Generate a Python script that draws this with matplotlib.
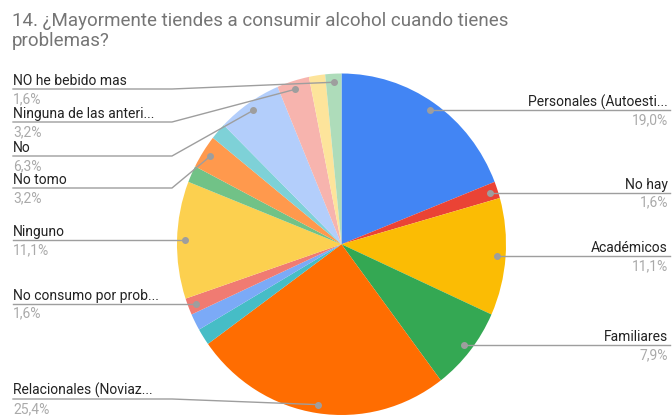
import numpy as np
import matplotlib
matplotlib.use("Agg")
import matplotlib.pyplot as plt

# datos: respuestas (63 en total), en el orden de las porciones desde arriba, sentido horario
categorias = ["Personales (Autoesti...", "No hay", "Académicos", "Familiares",
              "Relacionales (Noviaz...", "", "", "No consumo por prob...",
              "Ninguno", "", "No tomo", "", "No", "Ninguna de las anteri...",
              "", "NO he bebido mas"]
respuestas = [12, 1, 7, 5, 16, 1, 1, 1, 7, 1, 2, 1, 4, 2, 1, 1]
colores = ["#4285F4", "#EA4335", "#FBBC04", "#34A853", "#FF6D01", "#46BDC6",
           "#7BAAF7", "#F07B72", "#FCD04F", "#71C287", "#FF994D", "#7ED1D7",
           "#B3CEFB", "#F7B4AE", "#FDE49B", "#AEDCBA"]
titulo = "14. ¿Mayormente tiendes a consumir alcohol cuando tienes\nproblemas?"

# posicion vertical (px) de la linea de etiquetas apiladas a la izquierda
y_etiqueta = {"NO he bebido mas": 89, "Ninguna de las anteri...": 122, "No": 156,
              "No tomo": 188, "Relacionales (Noviaz...": 399}

plt.rcParams['font.family'] = ['Roboto', 'DejaVu Sans']
W, H = 672, 417
fig = plt.figure(figsize=(W / 100, H / 100), dpi=100)

# el pastel aparece un poco estirado en vertical en la captura
px0, px1, py0, py1 = 177, 506, 73.5, 415
ax = fig.add_axes([px0 / W, 1 - py1 / H, (px1 - px0) / W, (py1 - py0) / H])
wedges, _ = ax.pie(respuestas, colors=colores, startangle=90, counterclock=False,
                   radius=1, wedgeprops=dict(linewidth=0))
ax.set_aspect('auto')
ax.set_xlim(-1, 1)
ax.set_ylim(-1, 1)

ov = fig.add_axes([0, 0, 1, 1], zorder=5)
ov.set_xlim(0, W)
ov.set_ylim(H, 0)
ov.axis('off')

total = sum(respuestas)
to_ov = ax.transData + ov.transData.inverted()
for w, cat, n in zip(wedges, categorias, respuestas):
    if not cat:
        continue
    ang = np.deg2rad((w.theta1 + w.theta2) / 2)
    dx, dy = to_ov.transform((0.95 * np.cos(ang), 0.95 * np.sin(ang)))
    pct = f"{100 * n / total:.1f}%".replace(".", ",")
    ov.plot(dx, dy, 'o', ms=4, color="#9e9e9e", zorder=6)
    if dx > 341:
        ly = dy
        ov.plot([dx, 670], [ly, ly], color="#9e9e9e", lw=1)
        ov.text(668, ly - 4, cat, ha='right', va='baseline', fontsize=10, color="#222222")
        ov.text(668, ly + 14, pct, ha='right', va='baseline', fontsize=10, color="#aaaaaa")
    else:
        ly = y_etiqueta.get(cat, dy)
        if cat in y_etiqueta:
            ov.plot([13, 172, dx], [ly, ly, dy], color="#9e9e9e", lw=1)
        else:
            ov.plot([13, dx], [ly, ly], color="#9e9e9e", lw=1)
        ov.text(13, ly - 4, cat, ha='left', va='baseline', fontsize=10, color="#222222")
        ov.text(13, ly + 14, pct, ha='left', va='baseline', fontsize=10, color="#aaaaaa")

ov.text(12, 26, titulo.split("\n")[0], ha='left', va='baseline', fontsize=13.5, color="#757575")
ov.text(12, 46, titulo.split("\n")[1], ha='left', va='baseline', fontsize=13.5, color="#757575")

fig.savefig("out.png", dpi=100)
